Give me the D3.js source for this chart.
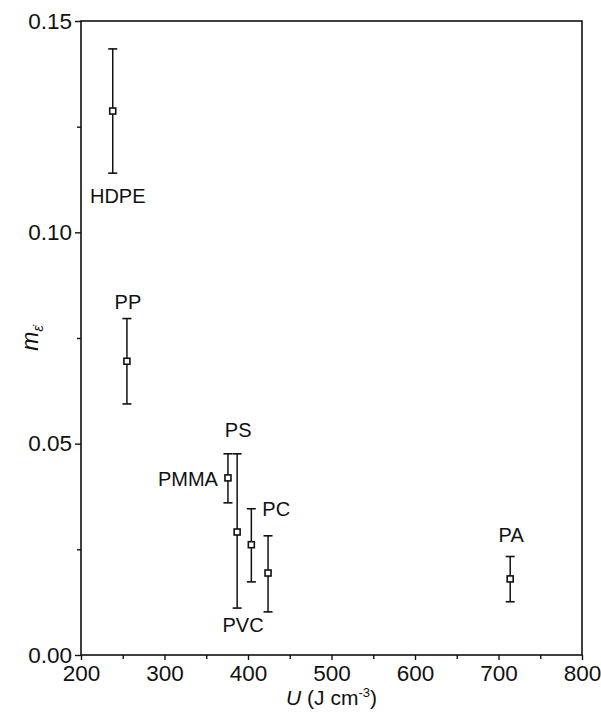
<!DOCTYPE html>
<html><head><meta charset="utf-8">
<script src="https://cdn.jsdelivr.net/npm/d3@7"></script>
<style>body{margin:0;background:#fff}svg{display:block}</style>
</head><body>
<script>
// ---- data ----
const materials = ["HDPE", "PP", "PMMA", "PS", "PC", "PVC", "PA"];
const energyU   = [238, 255, 376, 387, 404, 424, 714];
const mValues   = [0.1287, 0.0695, 0.0419, 0.0291, 0.0261, 0.0194, 0.0180];
const errLow    = [0.1140, 0.0594, 0.0360, 0.0111, 0.0173, 0.0102, 0.0126];
const errHigh   = [0.1434, 0.0796, 0.0476, 0.0476, 0.0346, 0.0282, 0.0233];
const xTickValues = [200, 300, 400, 500, 600, 700, 800];
const xMinorTicks = [250, 350, 450, 550, 650, 750];
const yTickValues = [0, 0.05, 0.10, 0.15];
const yMinorTicks = [0.025, 0.075, 0.125];

// ---- layout ----
const W = 601, H = 715;
const L = 81, R = 582, T = 21, B = 655;
const font = "'Liberation Sans', Arial, Helvetica, sans-serif";
const ink = "#111";

const svg = d3.select("body").append("svg").attr("width", W).attr("height", H);
const x = d3.scaleLinear().domain([200, 800]).range([L, R]);
const y = d3.scaleLinear().domain([0, 0.15]).range([B, T]);

// frame
svg.append("rect").attr("x", L).attr("y", T).attr("width", R - L).attr("height", B - T)
  .attr("fill", "none").attr("stroke", ink).attr("stroke-width", 1.6);

// axes
const xAxis = svg.append("g").attr("transform", `translate(0,${B})`)
  .call(d3.axisBottom(x).tickValues(xTickValues).tickFormat(d3.format("d")).tickSize(5).tickPadding(5));
const xMin = svg.append("g").attr("transform", `translate(0,${B})`)
  .call(d3.axisBottom(x).tickValues(xMinorTicks).tickFormat("").tickSize(4));
const yAxis = svg.append("g").attr("transform", `translate(${L},0)`)
  .call(d3.axisLeft(y).tickValues(yTickValues).tickFormat(d3.format(".2f")).tickSize(6).tickPadding(3));
const yMin = svg.append("g").attr("transform", `translate(${L},0)`)
  .call(d3.axisLeft(y).tickValues(yMinorTicks).tickFormat("").tickSize(4));
[xAxis, xMin, yAxis, yMin].forEach(g => {
  g.select(".domain").remove();
  g.selectAll("line").attr("stroke", ink).attr("stroke-width", 1.4);
  g.selectAll("text").attr("fill", ink).style("font-family", font).style("font-size", "22.5px");
});

// axis titles
const xt = svg.append("text").attr("x", (L + R) / 2).attr("y", 705).attr("text-anchor", "middle")
  .style("font-family", font).style("font-size", "21px").attr("fill", ink);
xt.append("tspan").style("font-style", "italic").text("U");
xt.append("tspan").text(" (J cm");
xt.append("tspan").attr("dy", -8).style("font-size", "13px").text("-3");
xt.append("tspan").attr("dy", 8).text(")");

const yt = svg.append("text").attr("transform", `translate(38,${(T + B) / 2}) rotate(-90)`)
  .attr("text-anchor", "middle").style("font-family", font).style("font-size", "23px").attr("fill", ink);
yt.append("tspan").style("font-style", "italic").text("m");
yt.append("tspan").attr("dy", 5).style("font-size", "14px").style("font-style", "italic").text("ε̇");

// data
const data = materials.map((n, i) => ({name: n, u: energyU[i], m: mValues[i], lo: errLow[i], hi: errHigh[i]}));
const g = svg.append("g");
const cap = 4.5;
data.forEach(d => {
  const cx = x(d.u);
  g.append("line").attr("x1", cx).attr("x2", cx).attr("y1", y(d.lo)).attr("y2", y(d.hi))
    .attr("stroke", ink).attr("stroke-width", 1.5);
  [d.lo, d.hi].forEach(v => g.append("line").attr("x1", cx - cap).attr("x2", cx + cap)
    .attr("y1", y(v)).attr("y2", y(v)).attr("stroke", ink).attr("stroke-width", 1.6));
  g.append("rect").attr("x", cx - 3).attr("y", y(d.m) - 3).attr("width", 6).attr("height", 6)
    .attr("fill", "#fff").attr("stroke", ink).attr("stroke-width", 1.6);
});

// labels
const placement = {
  HDPE: d => ({x: x(d.u) + 5, y: y(d.lo) + 30, a: "middle"}),
  PP:   d => ({x: x(d.u) + 1, y: y(d.hi) - 10, a: "middle"}),
  PMMA: d => ({x: x(d.u) - 10, y: y(d.m) + 8, a: "end"}),
  PS:   d => ({x: x(d.u) + 1, y: y(d.hi) - 17, a: "middle"}),
  PC:   d => ({x: x(d.u) + 11, y: y(d.hi) + 7, a: "start"}),
  PVC:  d => ({x: x(d.u) - 25, y: y(d.lo) + 20, a: "middle"}),
  PA:   d => ({x: x(d.u) + 1, y: y(d.hi) - 15, a: "middle"})
};
data.forEach(d => {
  const p = placement[d.name](d);
  svg.append("text").attr("x", p.x).attr("y", p.y).attr("text-anchor", p.a)
    .style("font-family", font).style("font-size", "20px").attr("fill", ink).text(d.name);
});
</script>
</body></html>
